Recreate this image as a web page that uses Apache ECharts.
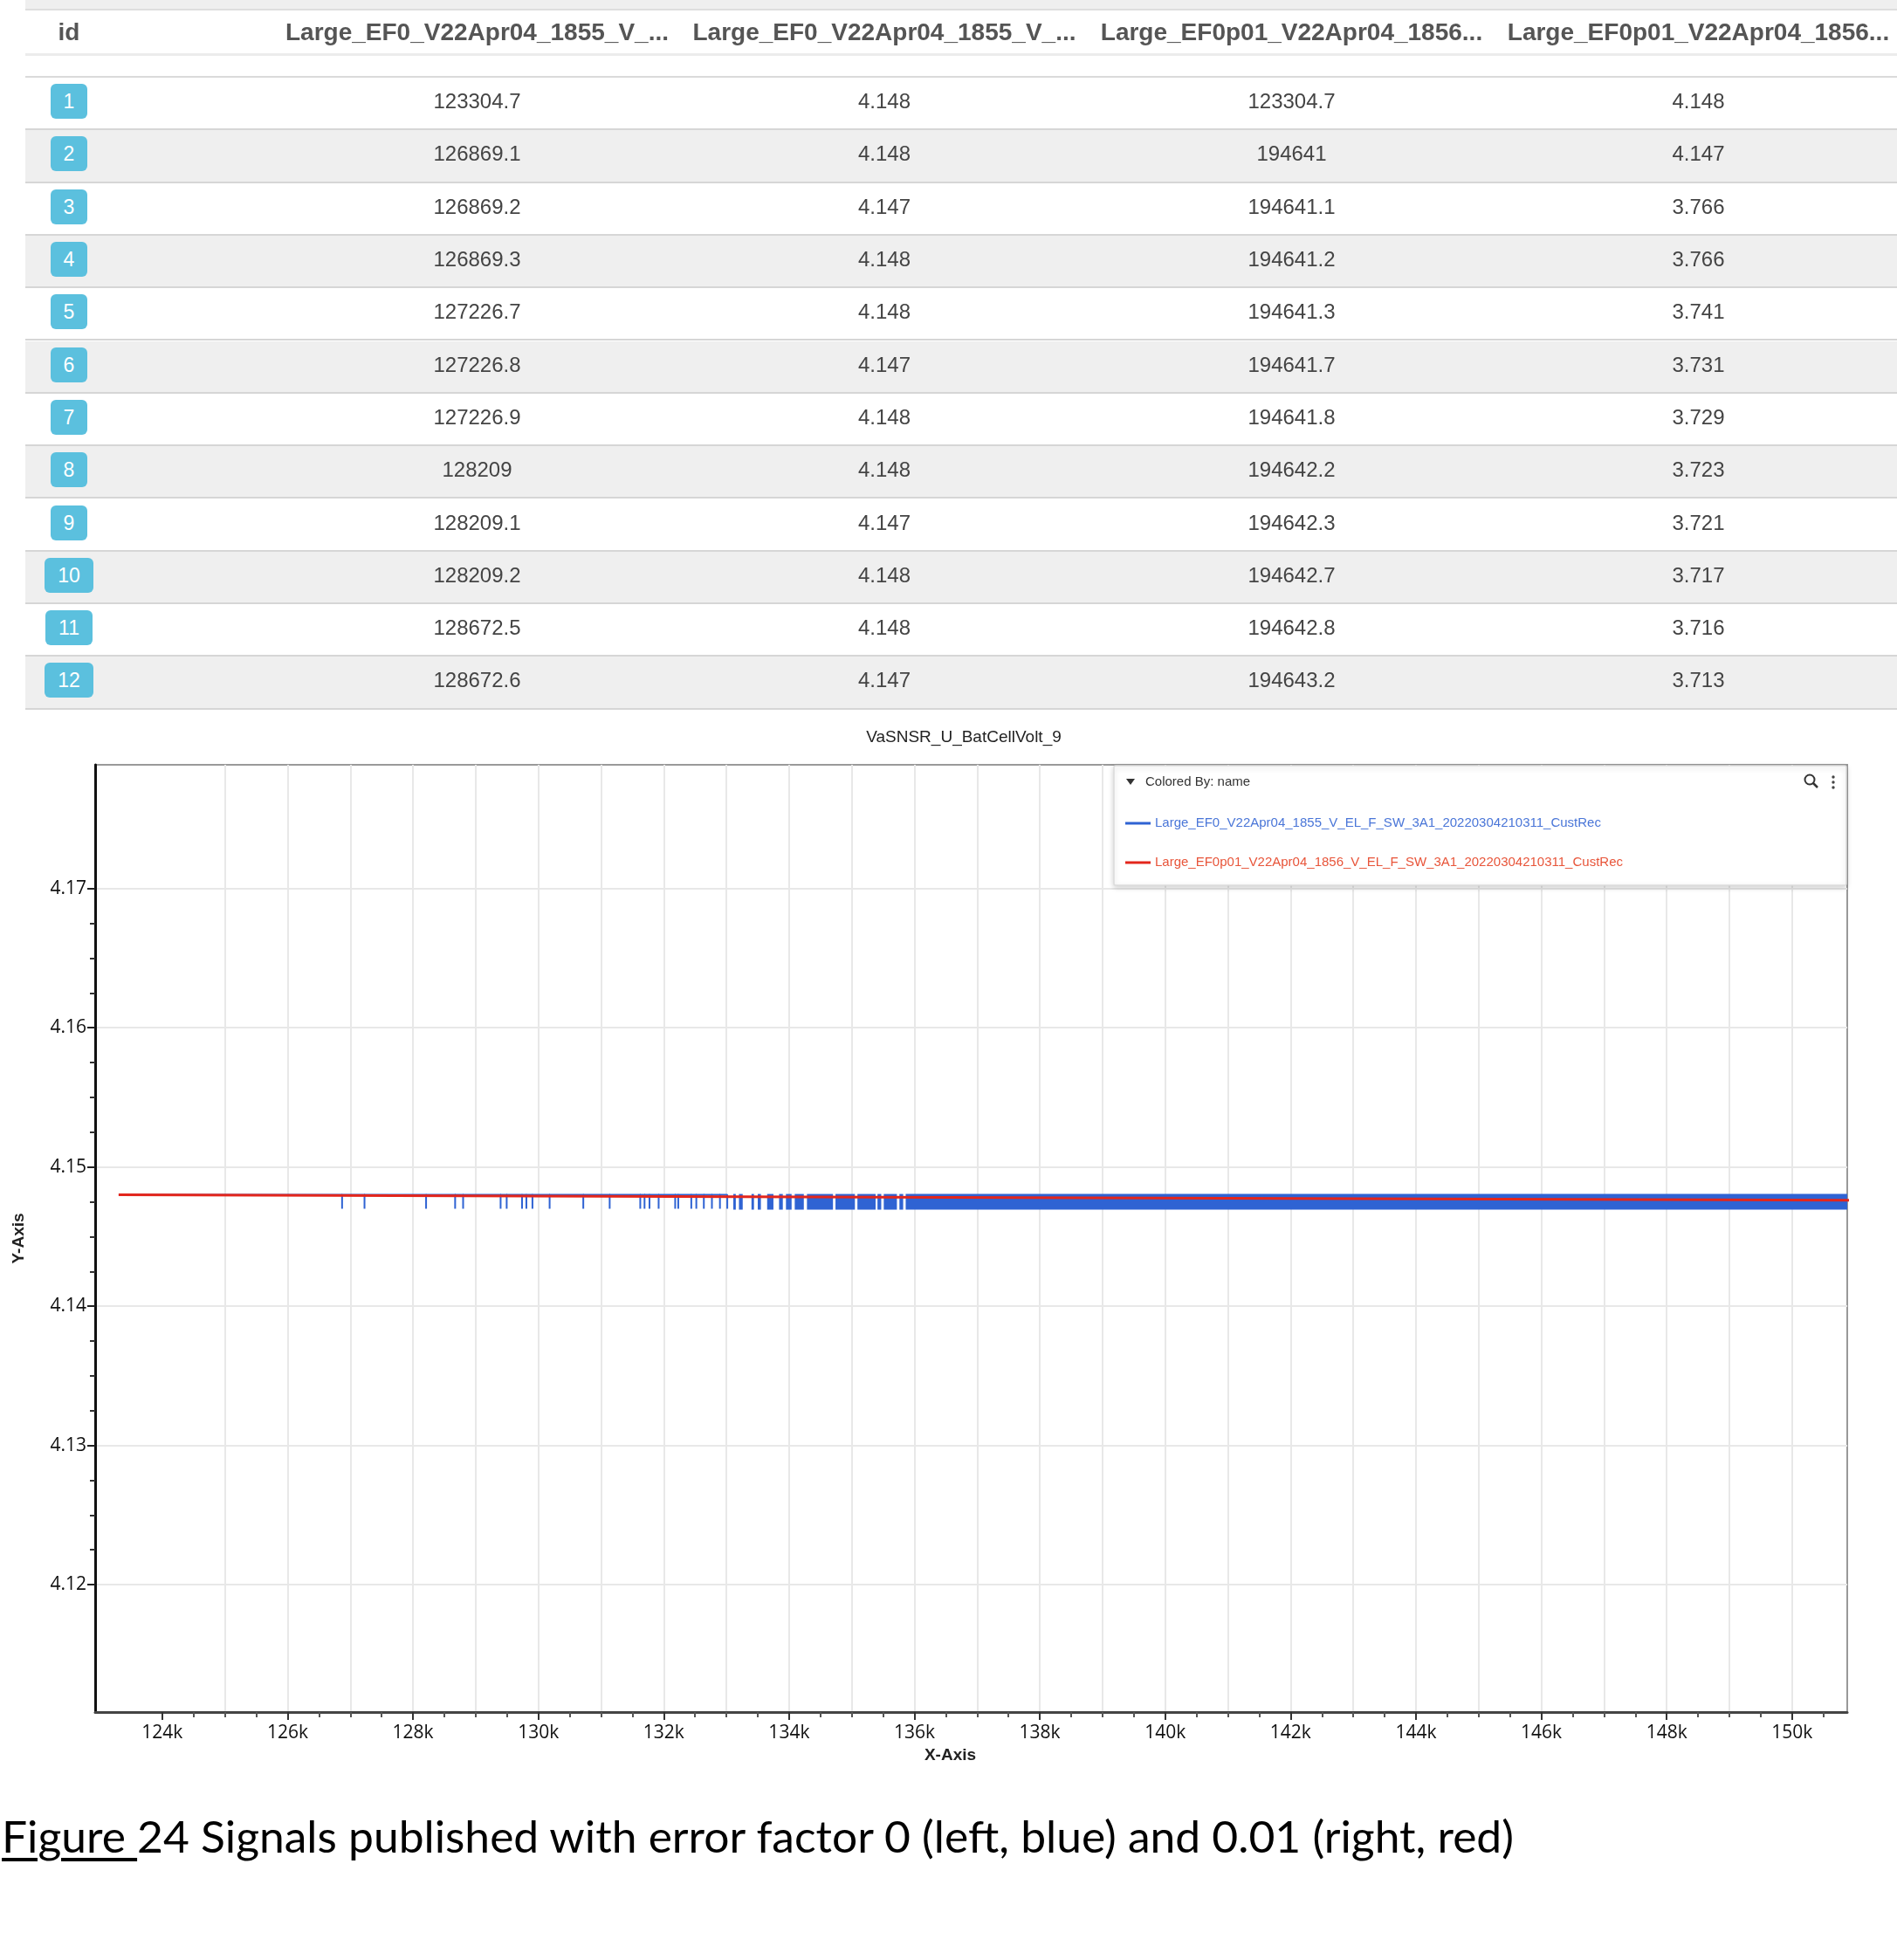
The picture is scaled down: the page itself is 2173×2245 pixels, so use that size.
<!DOCTYPE html>
<html><head><meta charset="utf-8">
<script src="https://cdn.jsdelivr.net/npm/echarts@6/dist/echarts.min.js"></script>
<style>
html,body{margin:0;padding:0;background:#fff;}
body{width:2173px;height:2245px;position:relative;overflow:hidden;}
#chart{position:absolute;left:0;top:0;width:2173px;height:2245px;}
#tbl{position:absolute;left:0;top:0;width:2173px;height:815px;font-family:"Liberation Sans",Arial,sans-serif;}
.strip{position:absolute;left:29px;right:0;}
.cell{position:absolute;top:0;height:100%;display:flex;align-items:center;justify-content:center;white-space:nowrap;}
.hdr{font-weight:bold;font-size:28px;color:#555;}
.val{font-size:24px;color:#444;padding-bottom:4px;box-sizing:border-box;}
.badge{display:inline-block;background:#5bc0de;color:#fff;border-radius:6px;height:40px;line-height:40px;padding:0 15px;font-size:23px;}
#cap{position:absolute;left:2px;top:2074px;font-family:Lato,"Open Sans",sans-serif;font-size:50px;line-height:58.8px;color:#000;white-space:nowrap;transform-origin:0 0;}
#cap u{text-decoration-thickness:4px;text-underline-offset:6px;}
</style></head>
<body>
<div id="chart"></div>
<div id="tbl"></div>
<div id="cap"><u>Figure </u>24 Signals published with error factor 0 (left, blue) and 0.01 (right, red)</div>
<script>
// ---------- table data ----------
const headers = ['id', 'Large_EF0_V22Apr04_1855_V_...', 'Large_EF0_V22Apr04_1855_V_...', 'Large_EF0p01_V22Apr04_1856...', 'Large_EF0p01_V22Apr04_1856...'];
const ids = [1, 2, 3, 4, 5, 6, 7, 8, 9, 10, 11, 12];
const ef0X = [123304.7, 126869.1, 126869.2, 126869.3, 127226.7, 127226.8, 127226.9, 128209, 128209.1, 128209.2, 128672.5, 128672.6];
const ef0Y = [4.148, 4.148, 4.147, 4.148, 4.148, 4.147, 4.148, 4.148, 4.147, 4.148, 4.148, 4.147];
const ef001X = [123304.7, 194641, 194641.1, 194641.2, 194641.3, 194641.7, 194641.8, 194642.2, 194642.3, 194642.7, 194642.8, 194643.2];
const ef001Y = [4.148, 4.147, 3.766, 3.766, 3.741, 3.731, 3.729, 3.723, 3.721, 3.717, 3.716, 3.713];

// ---------- chart data ----------
const blueName = 'Large_EF0_V22Apr04_1855_V_EL_F_SW_3A1_20220304210311_CustRec';
const redName = 'Large_EF0p01_V22Apr04_1856_V_EL_F_SW_3A1_20220304210311_CustRec';
// sample right after the last table row (signal returns high)
const blueReturnAfterTable = [[128672.7, 4.148]];
// isolated single-sample dips to 4.147
const blueDipX = [128800, 129398, 129495, 129740, 129809, 129906, 130180, 130717, 131138, 131626, 131694, 131773, 131919, 132183, 132232, 132440, 132520, 132640, 132769, 132897, 133014];
const blueLow = 4.147, blueHigh = 4.148;
// stretches where the signal toggles so fast it forms a solid band [x0, x1, low, high]
const blueBands = [
  [133110, 133150, 4.147, 4.148], [133200, 133260, 4.147, 4.148], [133400, 133440, 4.147, 4.148],
  [133500, 133550, 4.147, 4.148], [133650, 133750, 4.147, 4.148], [133840, 133900, 4.147, 4.148],
  [133950, 134040, 4.147, 4.148], [134090, 134235, 4.147, 4.148], [134285, 134700, 4.147, 4.148],
  [134740, 135050, 4.147, 4.148], [135090, 135380, 4.147, 4.148], [135410, 135470, 4.147, 4.148],
  [135510, 135720, 4.147, 4.148], [135760, 135820, 4.147, 4.148], [135860, 150880, 4.147, 4.148]
];

// ---------- axes ----------
const xMin = 122930, xMax = 150880;
const yMin = 4.11085, yMax = 4.17889;
const xLabelTicks = [124000, 126000, 128000, 130000, 132000, 134000, 136000, 138000, 140000, 142000, 144000, 146000, 148000, 150000];
const xMinorTicks = [124500, 125000, 125500, 126500, 127000, 127500, 128500, 129000, 129500, 130500, 131000, 131500, 132500, 133000, 133500, 134500, 135000, 135500, 136500, 137000, 137500, 138500, 139000, 139500, 140500, 141000, 141500, 142500, 143000, 143500, 144500, 145000, 145500, 146500, 147000, 147500, 148500, 149000, 149500, 150500];
const xGridTicks = [125000, 126000, 127000, 128000, 129000, 130000, 131000, 132000, 133000, 134000, 135000, 136000, 137000, 138000, 139000, 140000, 141000, 142000, 143000, 144000, 145000, 146000, 147000, 148000, 149000, 150000];
const yLabelTicks = [4.12, 4.13, 4.14, 4.15, 4.16, 4.17];
const yMinorTicks = [4.1225, 4.125, 4.1275, 4.1325, 4.135, 4.1375, 4.1425, 4.145, 4.1475, 4.1525, 4.155, 4.1575, 4.1625, 4.165, 4.1675];

// ---------- build table ----------
const tbl = document.getElementById('tbl');
const colCenters = [79, 546.5, 1013, 1479.5, 1945.5];
const colWidths = [120, 466, 466, 466, 466];
function strip(top, h, bg, border) {
  const d = document.createElement('div');
  d.className = 'strip';
  d.style.top = top + 'px'; d.style.height = h + 'px';
  d.style.background = bg;
  if (border) d.style.borderBottom = border;
  d.style.boxSizing = 'border-box';
  tbl.appendChild(d);
  return d;
}
function addCell(row, i, html, cls) {
  const c = document.createElement('div');
  c.className = 'cell ' + cls;
  c.style.left = (colCenters[i] - 29 - colWidths[i] / 2) + 'px';
  c.style.width = colWidths[i] + 'px';
  c.innerHTML = html;
  row.appendChild(c);
}
strip(0, 12, '#efefef', '2px solid #dedede');
const hdr = strip(12, 52, '#fff', '3px solid #ececec');
headers.forEach((h, i) => addCell(hdr, i, h, 'hdr'));
strip(64, 26, '#fff', '3px solid #dadada');
const rowH = 60.3;
ids.forEach((id, r) => {
  const row = strip(89 + r * rowH, rowH, r % 2 ? '#efefef' : '#fff', '2px solid #d6d6d6');
  addCell(row, 0, '<span class="badge">' + id + '</span>', 'val');
  addCell(row, 1, String(ef0X[r]), 'val');
  addCell(row, 2, String(ef0Y[r]), 'val');
  addCell(row, 3, String(ef001X[r]), 'val');
  addCell(row, 4, String(ef001Y[r]), 'val');
});

// caption width fit
const cap = document.getElementById('cap');
const cw = cap.getBoundingClientRect().width;
cap.style.transform = 'scaleX(' + (1732 / cw) + ')';

// ---------- series data ----------
const bluePoints = ef0X.map((x, i) => [x, ef0Y[i]]).concat(blueReturnAfterTable);
blueDipX.forEach(x => { bluePoints.push([x - 0.1, blueHigh], [x, blueLow], [x + 0.1, blueHigh]); });
const redPoints = ef001X.map((x, i) => [x, ef001Y[i]]);

const BLUE = '#2f63d3', RED = '#e3261c';
const labelFont = '"Open Sans", "Noto Sans", sans-serif';
const chart = echarts.init(document.getElementById('chart'), null, {renderer: 'canvas'});
const hiddenAxisBase = {
  axisLine: {show: false}, axisLabel: {show: false}, splitLine: {show: false}, axisPointer: {show: false}, silent: true
};
chart.setOption({
  animation: false,
  backgroundColor: 'transparent',
  title: {
    text: 'VaSNSR_U_BatCellVolt_9', left: 1104, top: 835, textAlign: 'center', padding: 0,
    textStyle: {fontSize: 19, fontWeight: 'normal', color: '#222', fontFamily: '"Liberation Sans", Arial, sans-serif'}
  },
  grid: {left: 109, top: 876, width: 2007, height: 1085, show: true, borderColor: '#999', borderWidth: 2, backgroundColor: 'transparent', containLabel: false},
  xAxis: [
    {
      type: 'value', min: xMin, max: xMax, position: 'bottom',
      axisLine: {show: true, onZero: false, lineStyle: {color: '#444', width: 3}},
      axisTick: {show: true, customValues: xLabelTicks, length: 9, lineStyle: {color: '#333', width: 2}},
      axisLabel: {customValues: xLabelTicks, margin: 14, fontSize: 21, color: '#111', fontFamily: labelFont,
        formatter: v => (v / 1000) + 'k'},
      splitLine: {show: false},
      name: 'X-Axis', nameLocation: 'middle', nameGap: 40,
      nameTextStyle: {fontSize: 19, fontWeight: 'bold', color: '#222', fontFamily: '"Liberation Sans", Arial, sans-serif', padding: [0, 48, 0, 0]}
    },
    Object.assign({
      type: 'value', min: xMin, max: xMax, position: 'bottom',
      axisTick: {show: true, customValues: xMinorTicks, length: 6, lineStyle: {color: '#555', width: 2}}
    }, hiddenAxisBase),
    Object.assign({
      type: 'value', min: xMin, max: xMax, position: 'bottom',
      axisTick: {show: false, customValues: xGridTicks}
    }, hiddenAxisBase, {splitLine: {show: true, lineStyle: {color: '#e8e8e8', width: 2}}})
  ],
  yAxis: [
    {
      type: 'value', min: yMin, max: yMax, position: 'left',
      axisLine: {show: true, onZero: false, lineStyle: {color: '#111', width: 3}},
      axisTick: {show: true, customValues: yLabelTicks, length: 9, lineStyle: {color: '#222', width: 2}},
      axisLabel: {customValues: yLabelTicks, margin: 10, fontSize: 21, color: '#111', fontFamily: labelFont},
      splitLine: {show: true, lineStyle: {color: '#e8e8e8', width: 2}},
      name: 'Y-Axis', nameLocation: 'middle', nameGap: 78, nameRotate: 90,
      nameTextStyle: {fontSize: 19, fontWeight: 'bold', color: '#222', fontFamily: '"Liberation Sans", Arial, sans-serif'}
    },
    Object.assign({
      type: 'value', min: yMin, max: yMax, position: 'left',
      axisTick: {show: true, customValues: yMinorTicks, length: 6, lineStyle: {color: '#333', width: 2}}
    }, hiddenAxisBase)
  ],
  legend: [
    {
      left: 1289, top: 934, padding: 0, selectedMode: false, orient: 'vertical', itemWidth: 29, itemHeight: 3,
      data: [{name: blueName, icon: 'rect', textStyle: {color: '#4a76d8'}}],
      textStyle: {fontSize: 15, lineHeight: 18, fontFamily: '"Liberation Sans", Arial, sans-serif'}, z: 20
    },
    {
      left: 1289, top: 979, padding: 0, selectedMode: false, orient: 'vertical', itemWidth: 29, itemHeight: 3,
      data: [{name: redName, icon: 'rect', textStyle: {color: '#e8553a'}}],
      textStyle: {fontSize: 15, lineHeight: 18, fontFamily: '"Liberation Sans", Arial, sans-serif'}, z: 20
    }
  ],
  graphic: [
    {type: 'rect', z: 10, shape: {x: 1276, y: 877, width: 839, height: 137, r: 2},
      style: {fill: '#fff', stroke: '#dcdcdc', lineWidth: 1.5, shadowBlur: 6, shadowOffsetY: 2, shadowColor: 'rgba(0,0,0,0.18)'}},
    {type: 'polygon', z: 11, shape: {points: [[1290, 892], [1300, 892], [1295, 899]]}, style: {fill: '#333'}},
    {type: 'text', z: 11, x: 1312, y: 896, style: {text: 'Colored By: name', fontSize: 15, fill: '#333', verticalAlign: 'middle', fontFamily: '"Liberation Sans", Arial, sans-serif'}},
    {type: 'circle', z: 11, shape: {cx: 2073, cy: 893, r: 5.5}, style: {fill: 'none', stroke: '#333', lineWidth: 2}},
    {type: 'line', z: 11, shape: {x1: 2077, y1: 897, x2: 2082, y2: 902}, style: {stroke: '#333', lineWidth: 2.5}},
    {type: 'circle', z: 11, shape: {cx: 2100, cy: 890, r: 1.7}, style: {fill: '#444'}},
    {type: 'circle', z: 11, shape: {cx: 2100, cy: 896, r: 1.7}, style: {fill: '#444'}},
    {type: 'circle', z: 11, shape: {cx: 2100, cy: 902, r: 1.7}, style: {fill: '#444'}}
  ],
  series: [
    {
      name: blueName, type: 'custom', xAxisIndex: 0, yAxisIndex: 0, color: BLUE, itemStyle: {color: BLUE},
      encode: {x: [0, 1], y: [2, 3]}, data: blueBands, z: 2, silent: true,
      renderItem: function (params, api) {
        const p0 = api.coord([api.value(0), api.value(3)]);
        const p1 = api.coord([api.value(1), api.value(2)]);
        return {type: 'rect', shape: {x: p0[0], y: p0[1] - 1, width: p1[0] - p0[0], height: p1[1] - p0[1] + 2},
          style: {fill: BLUE}};
      }
    },
    {
      name: blueName, type: 'line', xAxisIndex: 0, yAxisIndex: 0, data: bluePoints, color: BLUE,
      showSymbol: false, symbol: 'none', lineStyle: {color: BLUE, width: 2}, z: 2, silent: true
    },
    {
      name: redName, type: 'line', xAxisIndex: 0, yAxisIndex: 0, data: redPoints, color: RED,
      showSymbol: false, symbol: 'none', lineStyle: {color: RED, width: 3}, z: 3, silent: true
    }
  ]
});
</script>
</body></html>
